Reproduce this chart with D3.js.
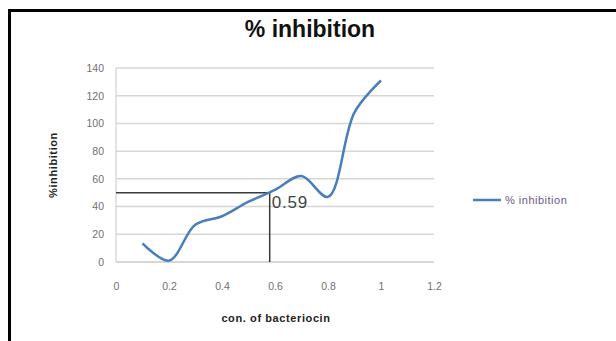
<!DOCTYPE html>
<html>
<head>
<meta charset="utf-8">
<script src="https://cdn.jsdelivr.net/npm/d3@7"></script>
<style>
  html, body { margin: 0; padding: 0; background: #fff; }
  svg { display: block; }
</style>
</head>
<body>
<svg id="chart" width="616" height="341"></svg>
<script>
// Concentration of bacteriocin and the measured % inhibition
const concentrations = [0.1, 0.2, 0.3, 0.4, 0.5, 0.6, 0.7, 0.8, 0.9, 1.0];
const inhibition = [13.5, 1, 27, 33, 43.5, 52, 62, 47, 108, 131];
const xTicks = [0, 0.2, 0.4, 0.6, 0.8, 1, 1.2];
const yTicks = [0, 20, 40, 60, 80, 100, 120, 140];
// IC50 read-off: 50 % inhibition at this concentration
const ic50 = 0.58;
const ic50Value = 50;
const ic50Label = "0.59";
const seriesName = "% inhibition";

const svg = d3.select("#chart");
const W = 616, H = 341;
const m = { left: 116, right: 182, top: 68, bottom: 80 };
const font = "'Liberation Sans', Arial, sans-serif";

svg.append("rect").attr("width", W).attr("height", H).attr("fill", "#fff");

const x = d3.scaleLinear().domain([0, 1.2]).range([m.left, W - m.right]);
const y = d3.scaleLinear().domain([0, 140]).range([H - m.bottom + 1, m.top]);

// horizontal gridlines
svg.append("g")
  .selectAll("line")
  .data(yTicks)
  .join("line")
  .attr("x1", x(0)).attr("x2", x(1.2))
  .attr("y1", d => y(d)).attr("y2", d => y(d))
  .attr("stroke", d => d === 0 ? "#c8c8c8" : "#d6d6d6")
  .attr("stroke-width", 1.5);

// vertical axis line
svg.append("line")
  .attr("x1", x(0)).attr("x2", x(0))
  .attr("y1", y(140)).attr("y2", y(0))
  .attr("stroke", "#d0d0d0").attr("stroke-width", 1.2);

// tick labels via d3 axes, with the domain and tick lines hidden
const yAxis = svg.append("g")
  .attr("transform", `translate(${x(0)},0)`)
  .call(d3.axisLeft(y).tickValues(yTicks).tickSize(0).tickPadding(12).tickFormat(d3.format("d")));
const xAxis = svg.append("g")
  .attr("transform", `translate(0,${y(0)})`)
  .call(d3.axisBottom(x).tickValues(xTicks).tickSize(0).tickPadding(21).tickFormat(d => String(d)));
[yAxis, xAxis].forEach(g => {
  g.select(".domain").remove();
  g.selectAll("text")
    .attr("fill", "#707070")
    .style("font-family", font)
    .style("font-size", "10.5px");
});

// IC50 guide lines
svg.append("path")
  .attr("d", `M${x(0)},${y(ic50Value)} H${x(ic50)} V${y(0)}`)
  .attr("fill", "none")
  .attr("stroke", "#3a3a3a")
  .attr("stroke-width", 1.5);

// smoothed series line
const line = d3.line()
  .x((d, i) => x(concentrations[i]))
  .y(d => y(d))
  .curve(d3.curveCatmullRom.alpha(0.5));
svg.append("path")
  .datum(inhibition)
  .attr("d", line)
  .attr("fill", "none")
  .attr("stroke", "#4a7ebb")
  .attr("stroke-width", 2.5)
  .attr("stroke-linejoin", "round");

// IC50 label
svg.append("text")
  .attr("x", x(ic50) + 2)
  .attr("y", y(ic50Value) + 15)
  .attr("fill", "#444")
  .style("font-family", font)
  .style("font-size", "17px")
  .style("letter-spacing", "0.8px")
  .text(ic50Label);

// title
svg.append("text")
  .attr("x", 310).attr("y", 37)
  .attr("text-anchor", "middle")
  .attr("fill", "#111")
  .style("font-family", font)
  .style("font-weight", "bold")
  .style("font-size", "23px")
  .text("% inhibition");

// axis titles
svg.append("text")
  .attr("transform", `translate(57,${y(70)}) rotate(-90)`)
  .attr("text-anchor", "middle")
  .attr("fill", "#222")
  .style("font-family", font)
  .style("font-weight", "bold")
  .style("font-size", "11px")
  .style("letter-spacing", "0.6px")
  .text("%inhibition");
svg.append("text")
  .attr("x", 276).attr("y", 322)
  .attr("text-anchor", "middle")
  .attr("fill", "#222")
  .style("font-family", font)
  .style("font-weight", "bold")
  .style("font-size", "11px")
  .style("letter-spacing", "0.6px")
  .text("con. of bacteriocin");

// legend
const lg = svg.append("g").attr("transform", "translate(473,200)");
lg.append("line").attr("x1", 0).attr("x2", 28).attr("y1", 0).attr("y2", 0)
  .attr("stroke", "#4a7ebb").attr("stroke-width", 2.5);
lg.append("text").attr("x", 32).attr("y", 4)
  .attr("fill", "#6a5a8a")
  .style("font-family", font)
  .style("font-size", "11px")
  .style("letter-spacing", "0.5px")
  .text(seriesName);

// chart frame (top and left edges fall inside the page)
svg.append("rect")
  .attr("x", 9.5).attr("y", 10.5)
  .attr("width", W + 20).attr("height", H + 20)
  .attr("fill", "none")
  .attr("stroke", "#000")
  .attr("stroke-width", 3);
</script>
</body>
</html>
